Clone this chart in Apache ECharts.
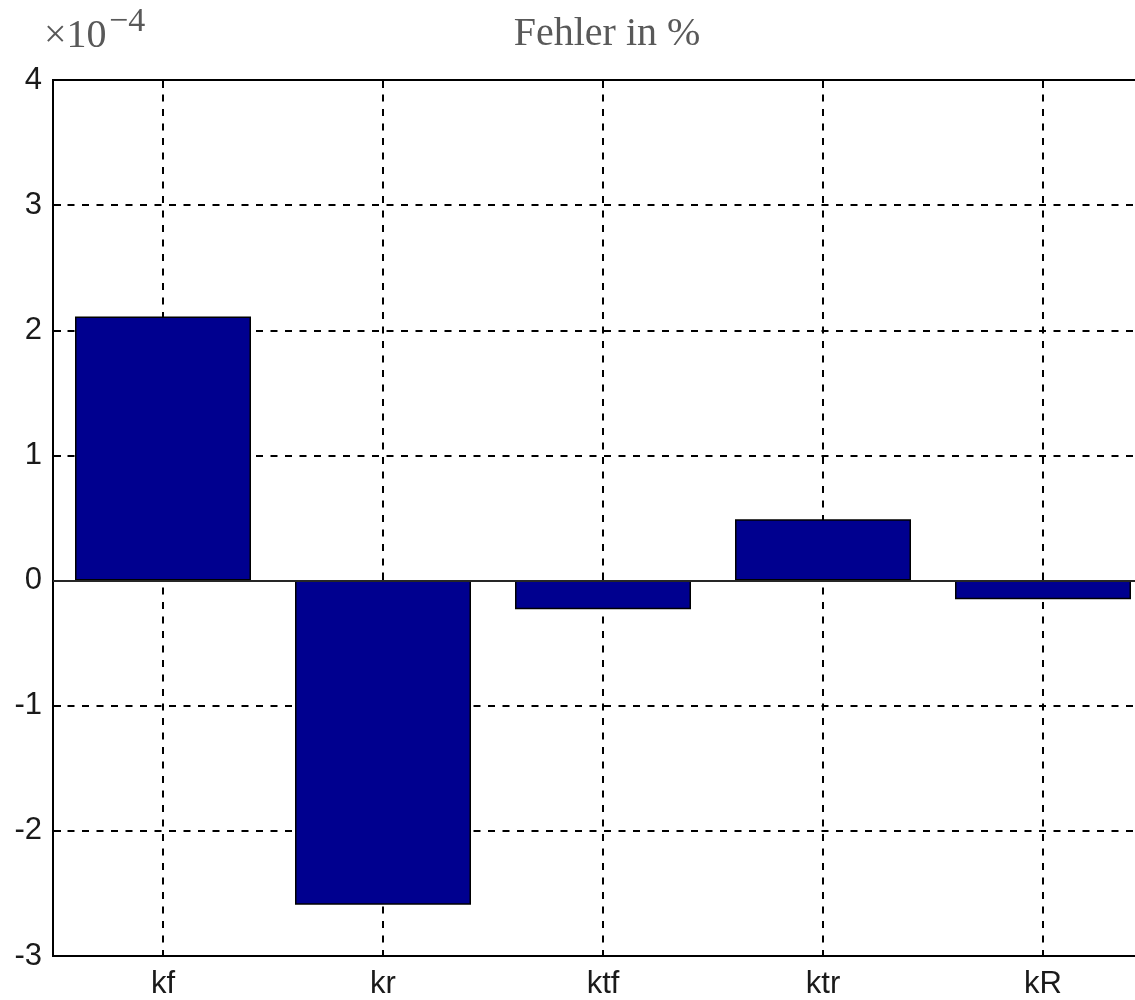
<!DOCTYPE html>
<html>
<head>
<meta charset="utf-8">
<script src="https://cdn.jsdelivr.net/npm/echarts@6/dist/echarts.min.js"></script>
<style>
  html, body { margin: 0; padding: 0; background: #fff; }
  #chart { width: 1135px; height: 1000px; }
</style>
</head>
<body>
<div id="chart"></div>
<script>
// Daten (Werte in 1e-4 %)
var categories = ['kf', 'kr', 'ktf', 'ktr', 'kR'];
var errorValues = [2.11, -2.59, -0.23, 0.49, -0.15];
var yTicks = [-3, -2, -1, 0, 1, 2, 3, 4];

var myChart = echarts.init(document.getElementById('chart'));

var dashed = { color: '#000', width: 2, type: [7, 7.5] };
var labelFont = { fontFamily: 'Liberation Sans', fontSize: 31, color: '#1a1a1a' };

var option = {
    animation: false,
    backgroundColor: '#fff',
    grid: {
        left: 53, top: 80, width: 1100, height: 876,
        outerBoundsMode: 'none',
        containLabel: false,
        show: true, borderColor: '#000', borderWidth: 2
    },
    graphic: [
        {
            type: 'text',
            style: {
                x: 607, y: 34, text: 'Fehler in %',
                font: '40px "Liberation Serif"', fill: '#595959',
                textAlign: 'center', textVerticalAlign: 'middle'
            }
        },
        {
            type: 'text',
            style: {
                x: 44, y: 36, text: '×10',
                font: '40px "Liberation Serif"', fill: '#595959',
                textAlign: 'left', textVerticalAlign: 'middle'
            }
        },
        {
            type: 'text',
            style: {
                x: 109, y: 22, text: '−4',
                font: '34px "Liberation Serif"', fill: '#595959',
                textAlign: 'left', textVerticalAlign: 'middle'
            }
        }
    ],
    xAxis: [
        {
            type: 'category',
            data: categories,
            position: 'bottom',
            axisLine: { show: true, lineStyle: { color: '#000', width: 2 } },
            axisTick: { show: true, inside: true, alignWithLabel: true, length: 8, lineStyle: { color: '#000', width: 2 } },
            axisLabel: Object.assign({ margin: 13 }, labelFont),
            splitLine: { show: true, alignWithLabel: true, lineStyle: dashed }
        },
        {
            type: 'category',
            data: categories,
            position: 'top',
            axisLine: { show: false },
            axisTick: { show: true, inside: true, alignWithLabel: true, length: 8, lineStyle: { color: '#000', width: 2 } },
            axisLabel: { show: false },
            splitLine: { show: false }
        }
    ],
    yAxis: {
        type: 'value',
        min: yTicks[0],
        max: yTicks[yTicks.length - 1],
        interval: 1,
        axisLine: { show: true, lineStyle: { color: '#000', width: 2 } },
        axisTick: { show: true, inside: true, length: 8, lineStyle: { color: '#000', width: 2 } },
        axisLabel: Object.assign({ margin: 11 }, labelFont),
        splitLine: { show: true, lineStyle: dashed }
    },
    series: [
        {
            name: 'Fehler',
            type: 'bar',
            data: errorValues,
            barWidth: '80%',
            itemStyle: { color: '#00008F', borderColor: '#000', borderWidth: 1.5 },
            markLine: {
                silent: true,
                symbol: 'none',
                label: { show: false },
                lineStyle: { color: '#333', width: 1.5, type: 'solid' },
                data: [{ yAxis: 0 }]
            }
        }
    ]
};

myChart.setOption(option);
</script>
</body>
</html>
